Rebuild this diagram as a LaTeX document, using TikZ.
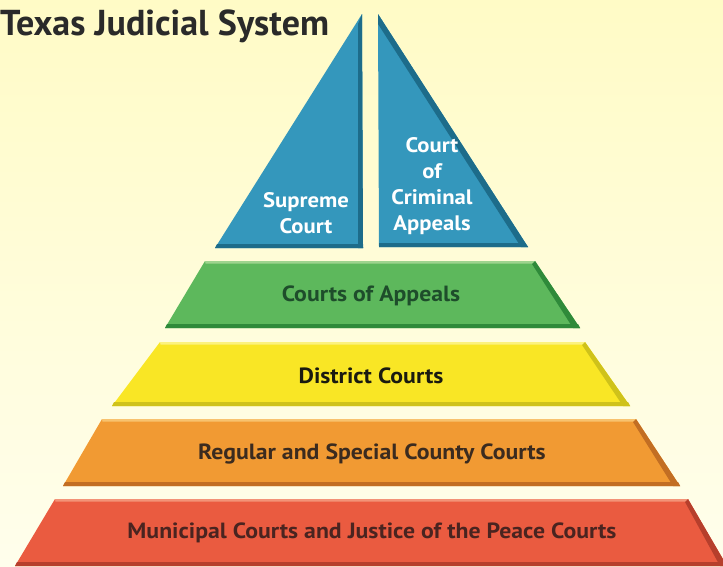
\documentclass[tikz,border=0pt]{standalone}
\usepackage{fontspec}
\setmainfont{PT Sans}
\newfontfamily\labelfont[FakeStretch=1.08]{PT Sans}
\definecolor{bgtop}{HTML}{FFFBC6}
\definecolor{bgbot}{HTML}{FFFEEC}
\definecolor{tealfill}{HTML}{3497BC}
\definecolor{tealdark}{HTML}{1D6C8A}
\definecolor{greenfill}{HTML}{5DB85C}
\definecolor{greendark}{HTML}{2F8A3A}
\definecolor{greenlight}{HTML}{9ED48E}
\definecolor{yellowfill}{HTML}{F9E625}
\definecolor{yellowdark}{HTML}{CFC21A}
\definecolor{yellowlight}{HTML}{FCF27E}
\definecolor{orangefill}{HTML}{F19A33}
\definecolor{orangedark}{HTML}{C26E23}
\definecolor{orangelight}{HTML}{F8C26E}
\definecolor{redfill}{HTML}{EA5B40}
\definecolor{reddark}{HTML}{B63F2C}
\definecolor{redlight}{HTML}{F39377}
\definecolor{titleink}{HTML}{2A2A2A}
\definecolor{greenink}{HTML}{1E4D2B}
\definecolor{yellowink}{HTML}{1A1A10}
\definecolor{orangeink}{HTML}{3B2B1F}
\definecolor{redink}{HTML}{4A2420}
% one bevelled band of the pyramid:
% {y top}{x top left}{x top right}{y bottom}{x bottom left}{x bottom right}{fill}{dark}{light}
\newcommand\pyrband[9]{%
  \fill[#7] (#2,#1) -- (#3,#1) -- (#6,#4) -- (#5,#4) -- cycle;
  \fill[#9] (#2,#1) -- (#3,#1) -- ({#3+1.5},{#1+2.5}) -- ({#2+0.5},{#1+2.5}) -- cycle;
  \fill[#8] (#3,#1) -- (#6,#4) -- ({#6-7},#4) -- ({#3-3},{#1+3}) -- cycle;
  \fill[#8] ({#5+2},{#4-4}) -- ({#6-2},{#4-4}) -- (#6,#4) -- (#5,#4) -- cycle;
}
\begin{document}
\begin{tikzpicture}[x=1pt,y=-1pt,
  bandlabel/.style={font=\labelfont\fontsize{22}{26}\selectfont\bfseries, inner sep=0pt},
  courtlabel/.style={font=\labelfont\fontsize{21}{26}\selectfont\bfseries, text=white,
    align=center, inner sep=0pt}]
\useasboundingbox (0,0) rectangle (723,566);
\shade[top color=bgtop, bottom color=bgbot] (0,0) rectangle (723,566);

% apex: the two high courts
\fill[tealfill] (362,14) -- (363,248) -- (215,248) -- cycle;
\fill[tealdark] (362,14) -- (363,248) -- (358,248) -- (358,24) -- cycle;
\fill[tealdark] (217,244) -- (363,244) -- (363,248) -- (215,248) -- cycle;
\fill[tealfill] (378,14) -- (528,247) -- (379,247) -- cycle;
\fill[tealdark] (378,14) -- (528,247) -- (521,247) -- (378,24) -- cycle;
\fill[tealdark] (379,243) -- (525,243) -- (528,247) -- (379,247) -- cycle;

% lower tiers
\pyrband{261}{205}{535}{328}{165}{580}{greenfill}{greendark}{greenlight}
\pyrband{342}{160}{585}{406}{112}{630}{yellowfill}{yellowdark}{yellowlight}
\pyrband{419}{102}{636}{486}{63}{680}{orangefill}{orangedark}{orangelight}
\pyrband{499}{55}{688}{566}{15}{727}{redfill}{reddark}{redlight}

% labels (multi-line nodes: base anchor sits on the last line)
\node[anchor=base west, inner sep=0pt, text=titleink,
  font=\fontsize{36}{40}\selectfont\bfseries] (title) at (0,35) {Texas Judicial System};
\node[courtlabel, anchor=base] (supreme) at (306,233) {Supreme\\Court};
\node[courtlabel, anchor=base] (criminal) at (432,230) {Court\\of\\Criminal\\Appeals};
\node[bandlabel, text=greenink] (appeals) at (371,296) {Courts of Appeals};
\node[bandlabel, text=yellowink] (district) at (371,376) {District Courts};
\node[bandlabel, text=orangeink] (county) at (372,454) {Regular and Special County Courts};
\node[bandlabel, text=redink] (municipal) at (372,533) {Municipal Courts and Justice of the Peace Courts};
\end{tikzpicture}
\end{document}
